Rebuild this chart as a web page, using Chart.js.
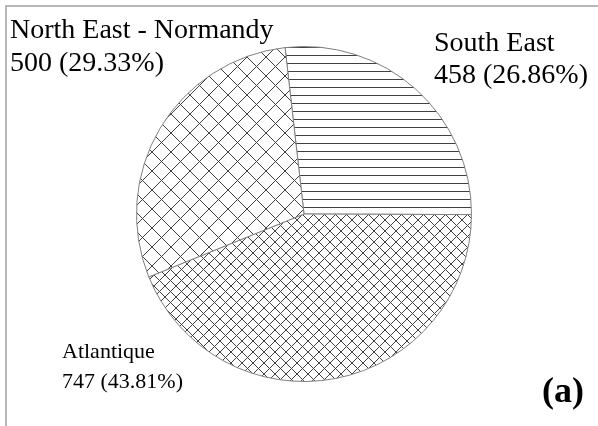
<!DOCTYPE html>
<html lang="en">
<head>
  <meta charset="UTF-8">
  <title>Pie (a)</title>
  <script src="https://cdn.jsdelivr.net/npm/chart.js"></script>
  <style>
    html, body { margin: 0; padding: 0; background: #fff; }
    #wrap { width: 598px; height: 426px; position: relative; }
  </style>
</head>
<body>
  <div id="wrap"><canvas id="pieChart"></canvas></div>
  <script>
// data
const regions = ['South East', 'Atlantique', 'North East - Normandy'];
const counts = [458, 747, 500];

// hatch tiles: kind + tile size
function hatch(kind, size) {
  const c = document.createElement('canvas');
  c.width = size; c.height = size;
  const g = c.getContext('2d');
  g.fillStyle = '#fff';
  g.fillRect(0, 0, size, size);
  g.strokeStyle = '#404040';
  g.lineWidth = 1;
  g.beginPath();
  if (kind === 'h') {
    g.moveTo(0, size - 0.5); g.lineTo(size, size - 0.5);
  } else {
    g.moveTo(0, 0); g.lineTo(size, size);
    g.moveTo(size, 0); g.lineTo(0, size);
  }
  g.stroke();
  return g.createPattern(c, 'repeat');
}

const fills = [hatch('h', 8), hatch('x', 11), hatch('x', 19)];
const total = counts.reduce((a, b) => a + b, 0);

// where each label block sits: x, first baseline, line gap, font size
const labelPos = [
  { x: 434, y: 51, gap: 32, size: 28 },
  { x: 62, y: 358, gap: 30, size: 22 },
  { x: 10, y: 38, gap: 33, size: 28 }
];

const decor = {
  id: 'decor',
  beforeDraw(chart) {
    const ctx = chart.ctx;
    ctx.save();
    ctx.strokeStyle = '#a0a0a0';
    ctx.lineWidth = 1.5;
    ctx.beginPath();
    ctx.moveTo(6, 430);
    ctx.lineTo(6, 6);
    ctx.lineTo(600, 6);
    ctx.stroke();
    ctx.restore();
  },
  afterDraw(chart) {
    const ctx = chart.ctx;
    ctx.save();
    ctx.fillStyle = '#000';
    ctx.textBaseline = 'alphabetic';
    regions.forEach((name, i) => {
      const p = labelPos[i];
      const pct = (counts[i] / total * 100).toFixed(2);
      ctx.font = p.size + 'px "Liberation Serif"';
      ctx.fillText(name, p.x, p.y);
      ctx.fillText(counts[i] + ' (' + pct + '%)', p.x, p.y + p.gap);
    });
    ctx.font = 'bold 36px "Liberation Serif"';
    ctx.fillText('(a)', 542, 402);
    ctx.restore();
  }
};

new Chart(document.getElementById('pieChart'), {
  type: 'pie',
  data: {
    labels: regions,
    datasets: [{
      data: counts,
      backgroundColor: fills,
      borderColor: '#808080',
      borderWidth: 1
    }]
  },
  options: {
    responsive: true,
    maintainAspectRatio: false,
    animation: false,
    rotation: -6.5,
    layout: { padding: { left: 131, right: 121, top: 46, bottom: 44 } },
    plugins: {
      legend: { display: false },
      tooltip: { enabled: false }
    }
  },
  plugins: [decor]
});
  </script>
</body>
</html>
